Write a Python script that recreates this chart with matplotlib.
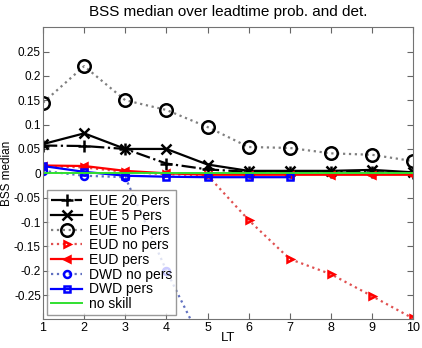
import matplotlib
matplotlib.use('Agg')
import matplotlib.pyplot as plt
import numpy as np

plt.rcParams['font.family'] = ['Liberation Sans', 'DejaVu Sans']

lt = [1, 2, 3, 4, 5, 6, 7, 8, 9, 10]
eue_20 = [0.057, 0.056, 0.050, 0.020, 0.008, 0.003, 0.003, 0.003, 0.002, 0.001]
eue_5 = [0.060, 0.082, 0.050, 0.050, 0.018, 0.005, 0.005, 0.005, 0.007, 0.002]
eue_no = [0.145, 0.220, 0.150, 0.130, 0.095, 0.054, 0.052, 0.041, 0.038, 0.025]
eud_no = [0.015, 0.012, 0.003, -0.002, -0.004, -0.096, -0.176, -0.207, -0.252, -0.298]
eud_pers = [0.016, 0.015, 0.005, 0.0, -0.003, -0.003, -0.003, -0.003, -0.003, -0.003]
lt_dwd = [1, 2, 3, 4, 5, 6, 7]
dwd_no = [0.005, -0.005, -0.008, -0.200, -0.370, -0.500, -0.600]
dwd_pers = [0.015, 0.003, -0.005, -0.007, -0.008, -0.008, -0.008]
no_skill = [0, 0, 0, 0, 0, 0, 0, 0, 0, 0]

fig = plt.figure(figsize=(4.22, 3.48), dpi=100)
ax = fig.add_axes([0.102, 0.082, 0.877, 0.840])

ax.plot(lt, eue_20, color='k', linestyle='-.', linewidth=1.6, marker='+', markersize=9, markeredgewidth=1.8, label='EUE 20 Pers')
ax.plot(lt, eue_5, color='k', linestyle='-', linewidth=1.6, marker='x', markersize=7, markeredgewidth=1.8, label='EUE 5 Pers')
ax.plot(lt, eue_no, color='0.5', linestyle=':', linewidth=1.6, marker='o', markersize=9, markeredgewidth=1.8,
        markeredgecolor='k', markerfacecolor='none', label='EUE no Pers')
ax.plot(lt, eud_no, color='#e05050', linestyle=':', linewidth=1.6, marker='>', markersize=5, markeredgewidth=1.8,
        markeredgecolor='r', markerfacecolor='none', label='EUD no pers')
ax.plot(lt, eud_pers, color='r', linestyle='-', linewidth=1.6, marker='<', markersize=5, markeredgewidth=1.8, label='EUD pers')
ax.plot(lt_dwd, dwd_no, color='#6070c0', linestyle=':', linewidth=1.6, marker='o', markersize=5, markeredgewidth=1.8,
        markeredgecolor='b', markerfacecolor='none', label='DWD no pers')
ax.plot(lt_dwd, dwd_pers, color='b', linestyle='-', linewidth=1.6, marker='s', markersize=5, markeredgewidth=1.8,
        markerfacecolor='none', label='DWD pers')
ax.plot(lt, no_skill, color='#30e030', linestyle='-', linewidth=1.4, label='no skill')

ax.set_xlim(1, 10)
ax.set_ylim(-0.3, 0.3)
ax.set_xticks(lt)
ax.set_yticks([-0.25, -0.2, -0.15, -0.1, -0.05, 0, 0.05, 0.1, 0.15, 0.2, 0.25])
ax.set_yticklabels(['-0.25', '-0.2', '-0.15', '-0.1', '-0.05', '0', '0.05', '0.1', '0.15', '0.2', '0.25'])
ax.tick_params(direction='in', top=True, right=True, labelsize=9, length=4, color='0.4', pad=1.5)
ax.tick_params(axis='y', labelsize=8.5)
for s in ax.spines.values():
    s.set_color('0.45')

ax.set_title('BSS median over leadtime prob. and det.', fontsize=11, pad=8)
ax.set_xlabel('LT', fontsize=9.5, labelpad=-1)
ax.set_ylabel('BSS median', fontsize=8.5)
ax.yaxis.set_label_coords(-0.081, 0.5)

leg = ax.legend(loc='lower left', fontsize=10, frameon=True, fancybox=False, handlelength=2.2,
                borderpad=0.3, labelspacing=0.05, handletextpad=0.5, borderaxespad=0.3)
leg.get_frame().set_edgecolor('0.5')
leg.get_frame().set_linewidth(1)

fig.savefig('out.png', dpi=100)
